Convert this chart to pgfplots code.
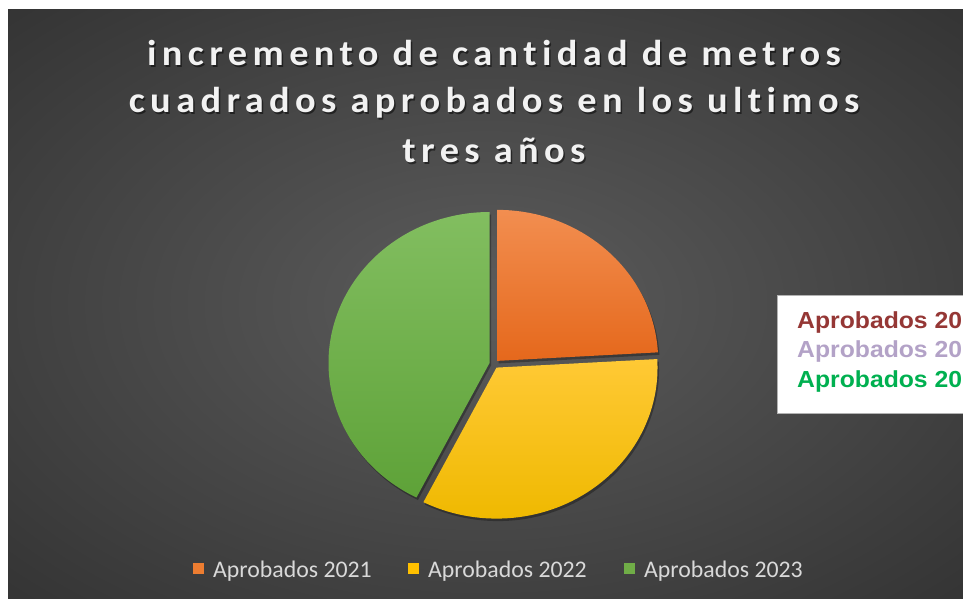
\documentclass[border=0pt]{standalone}
\usepackage{pgfplots}
\pgfplotsset{compat=1.18}
\usepackage{pgfplotstable}
\usepackage{fontspec}
\setmainfont{Carlito}
\newfontfamily\titlefont[LetterSpace=15,FakeStretch=1.066,Ligatures=NoCommon]{Carlito}
\newfontfamily\boxfont[FakeStretch=1.066]{Liberation Sans}
\definecolor{bgin}{HTML}{5C5C5C}
\definecolor{bgout}{HTML}{242424}
\definecolor{orA}{HTML}{F28E50}
\definecolor{orB}{HTML}{E5681C}
\definecolor{yeA}{HTML}{FFC935}
\definecolor{yeB}{HTML}{EFB900}
\definecolor{grA}{HTML}{82BE60}
\definecolor{grB}{HTML}{5EA238}
\definecolor{or}{HTML}{ED7D31}
\definecolor{ye}{HTML}{FFC000}
\definecolor{gr}{HTML}{70AD47}
\definecolor{titlec}{HTML}{F2F2F2}
\definecolor{legc}{HTML}{D9D9D9}
\definecolor{redt}{HTML}{953735}
\definecolor{lavt}{HTML}{B3A2C7}
\definecolor{grt}{HTML}{00B050}
\pgfdeclareradialshading{bgshade}{\pgfpoint{0bp}{0bp}}{color(0bp)=(bgin); color(50bp)=(bgout); color(72bp)=(bgout)}

\pgfplotstableread{
year value
2021 24.1
2022 33.4
2023 42.5
}\piedata

\newcommand\tfont{\titlefont\bfseries\fontsize{36}{41}\selectfont}
\begin{document}
\begin{tikzpicture}[x=1pt,y=1pt]
\useasboundingbox (0,0) rectangle (963,598);
\clip (0,0) rectangle (963,598);
\fill[white] (0,0) rectangle (963,598);
\shade[shading=bgshade] (8,0) rectangle (963,588);
\begin{axis}[at={(0,0)},anchor=south west,width=963pt,height=598pt,scale only axis,
  xmin=0,xmax=963,ymin=0,ymax=598,hide axis,clip=false]
\coordinate (pc) at (axis cs:494,234);
% title
\node[anchor=base,text=black,opacity=0.5] at (axis cs:495.5,530.5) {\tfont incremento de cantidad de metros};
\node[anchor=base,text=black,opacity=0.5] at (axis cs:495.5,483.5) {\tfont cuadrados aprobados en los ultimos};
\node[anchor=base,text=black,opacity=0.5] at (axis cs:495.5,433.5) {\tfont tres años};
\node[anchor=base,text=titlec] at (axis cs:494,532) {\tfont incremento de cantidad de metros};
\node[anchor=base,text=titlec] at (axis cs:494,485) {\tfont cuadrados aprobados en los ultimos};
\node[anchor=base,text=titlec] at (axis cs:494,435) {\tfont tres años};
% legend
\fill[or] (axis cs:193,24) rectangle (axis cs:204,35);
\node[anchor=base west,inner sep=0pt,text=legc] at (axis cs:213,21) {\fontsize{23.8}{28}\selectfont Aprobados 2021};
\fill[ye] (axis cs:408,24) rectangle (axis cs:419,35);
\node[anchor=base west,inner sep=0pt,text=legc] at (axis cs:428,21) {\fontsize{23.8}{28}\selectfont Aprobados 2022};
\fill[gr] (axis cs:624,24) rectangle (axis cs:635,35);
\node[anchor=base west,inner sep=0pt,text=legc] at (axis cs:644,21) {\fontsize{23.8}{28}\selectfont Aprobados 2023};
% text box (cut at the picture's right edge, as in the reference)
\filldraw[fill=white,draw=gray!60,line width=1pt] (axis cs:777,185) rectangle (axis cs:975,303);
\node[anchor=base west,inner sep=0pt,text=redt] at (axis cs:797,270) {\boxfont\bfseries\fontsize{23.2}{27}\selectfont Aprobados 20};
\node[anchor=base west,inner sep=0pt,text=lavt] at (axis cs:797,241) {\boxfont\bfseries\fontsize{23.2}{27}\selectfont Aprobados 20};
\node[anchor=base west,inner sep=0pt,text=grt] at (axis cs:797,211) {\boxfont\bfseries\fontsize{23.2}{27}\selectfont Aprobados 20};
\end{axis}
% pie slices from table values
\pgfplotstablegetelem{0}{value}\of\piedata \let\va\pgfplotsretval
\pgfplotstablegetelem{1}{value}\of\piedata \let\vb\pgfplotsretval
\pgfplotstablegetelem{2}{value}\of\piedata \let\vc\pgfplotsretval
\pgfmathsetmacro\tot{\va+\vb+\vc}
\pgfmathsetmacro\aA{90}
\pgfmathsetmacro\aB{90-360*\va/\tot}
\pgfmathsetmacro\aC{\aB-360*\vb/\tot}
\pgfmathsetmacro\aD{\aC-360*\vc/\tot}
\def\slice#1#2#3#4{%
  \pgfmathsetmacro\mid{(#1+#2)/2}%
  \fill[black,opacity=0.3] ([shift={(\mid:4.6 and 4.3)}]pc) ++(1.5,-2.5) -- ++(#1:161 and 151) arc[start angle=#1,end angle=#2,x radius=161,y radius=151] -- cycle;
  \shade[top color=#3,bottom color=#4] ([shift={(\mid:4.6 and 4.3)}]pc) -- ++(#1:161 and 151) arc[start angle=#1,end angle=#2,x radius=161,y radius=151] -- cycle;
}
\slice{\aA}{\aB}{orA}{orB}
\slice{\aB}{\aC}{yeA}{yeB}
\slice{\aC}{\aD}{grA}{grB}
\end{tikzpicture}
\end{document}
